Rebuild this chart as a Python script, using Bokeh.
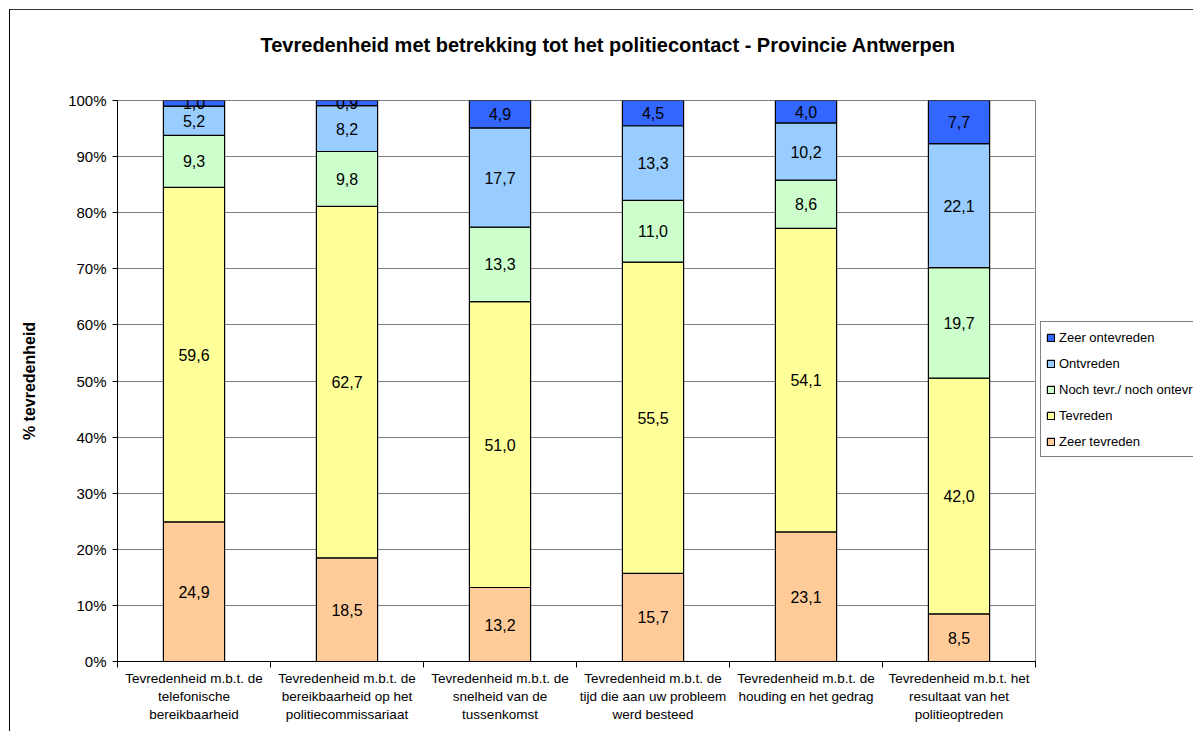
from bokeh.plotting import figure
from bokeh.models import (ColumnDataSource, FixedTicker, Range1d, Legend, LegendItem,
                          LabelSet, PrintfTickFormatter)
from bokeh.embed import file_html
from bokeh.resources import INLINE
from bokeh.core.properties import value

# ---------------- data ----------------
categories = [
    "Tevredenheid m.b.t. de\ntelefonische\nbereikbaarheid",
    "Tevredenheid m.b.t. de\nbereikbaarheid op het\npolitiecommissariaat",
    "Tevredenheid m.b.t. de\nsnelheid van de\ntussenkomst",
    "Tevredenheid m.b.t. de\ntijd die aan uw probleem\nwerd besteed",
    "Tevredenheid m.b.t. de\nhouding en het gedrag",
    "Tevredenheid m.b.t. het\nresultaat van het\npolitieoptreden",
]
zeer_tevreden = [24.9, 18.5, 13.2, 15.7, 23.1, 8.5]
tevreden = [59.6, 62.7, 51.0, 55.5, 54.1, 42.0]
noch = [9.3, 9.8, 13.3, 11.0, 8.6, 19.7]
ontevreden = [5.2, 8.2, 17.7, 13.3, 10.2, 22.1]
zeer_ontevreden = [1.0, 0.9, 4.9, 4.5, 4.0, 7.7]

series_names = ["Zeer tevreden", "Tevreden", "Noch tevr./ noch ontevr",
                "Ontvreden", "Zeer ontevreden"]
series_values = [zeer_tevreden, tevreden, noch, ontevreden, zeer_ontevreden]
colors = ["#FFCC99", "#FFFF99", "#CCFFCC", "#99CCFF", "#3366FF"]
y_ticks = [0, 10, 20, 30, 40, 50, 60, 70, 80, 90, 100]

title_text = "Tevredenheid met betrekking tot het politiecontact - Provincie Antwerpen"
y_label = "% tevredenheid"

FONT = "Liberation Sans"

# ---------------- figure ----------------
n = len(categories)
xs = [i + 0.5 for i in range(n)]
totals = [sum(s[i] for s in series_values) for i in range(n)]

p = figure(width=1183, height=721, frame_width=918, frame_height=561,
           output_backend="svg", toolbar_location=None,
           x_range=Range1d(0, n), y_range=Range1d(0, 100),
           min_border_left=107, min_border_right=158, min_border_top=90,
           min_border_bottom=70, tools="")
p.styles = {"margin-left": "9px", "margin-top": "9px",
            "border-left": "1px solid black", "border-top": "1px solid #333333"}

p.background_fill_color = "white"
p.border_fill_color = "white"
p.outline_line_color = "#808080"
p.outline_line_width = 1

# trailing empty line keeps the title high in the top margin
p.title.text = title_text + "\n"
p.title.text_font = FONT
p.title.text_font_size = "20px"
p.title.text_font_style = "bold"
p.title.text_color = "black"
p.title.align = "left"
p.title.offset = 143
p.title.vertical_align = "top"
p.title.standoff = 42

legend_items = []
bottoms = [0.0] * n
label_x, label_y, label_t = [], [], []
for name, vals, col in zip(series_names, series_values, colors):
    pct = [v / t * 100 for v, t in zip(vals, totals)]
    tops = [b + v for b, v in zip(bottoms, pct)]
    src = ColumnDataSource(dict(x=xs, bottom=bottoms, top=tops))
    r = p.vbar(x="x", bottom="bottom", top="top", width=0.4, source=src,
               fill_color=col, line_color="black", line_width=1.2)
    legend_items.append(LegendItem(label=name, renderers=[r]))
    for i in range(n):
        label_x.append(xs[i])
        label_y.append((bottoms[i] + tops[i]) / 2)
        label_t.append(f"{vals[i]:.1f}".replace(".", ","))
    bottoms = tops

lab_src = ColumnDataSource(dict(x=label_x, y=label_y, t=label_t))
p.add_layout(LabelSet(x="x", y="y", text="t", source=lab_src,
                      text_align="center", text_baseline="middle",
                      text_font=value(FONT), text_font_size="16px",
                      text_color="black"))

# ---------------- axes ----------------
p.yaxis.ticker = FixedTicker(ticks=y_ticks)
p.yaxis.formatter = PrintfTickFormatter(format="%d%%")
p.yaxis.major_label_text_font = FONT
p.yaxis.major_label_text_font_size = "15px"
p.yaxis.major_label_text_color = "black"
p.yaxis.major_tick_in = 0
p.yaxis.major_tick_out = 5
p.yaxis.minor_tick_line_color = None
p.yaxis.axis_line_color = "black"
p.yaxis.major_label_standoff = 6
p.yaxis.axis_label = y_label
p.yaxis.axis_label_text_font = FONT
p.yaxis.axis_label_text_font_size = "16px"
p.yaxis.axis_label_text_font_style = "bold"
p.yaxis.axis_label_text_color = "black"
p.yaxis.axis_label_standoff = 27

p.xaxis.ticker = FixedTicker(ticks=xs, minor_ticks=list(range(n + 1)))
p.xaxis.major_label_overrides = {x: c for x, c in zip(xs, categories)}
p.xaxis.major_label_text_font = FONT
p.xaxis.major_label_text_font_size = "13.5px"
p.xaxis.major_label_text_color = "black"
p.xaxis.major_tick_line_color = None
p.xaxis.major_tick_in = 0
p.xaxis.major_tick_out = 0
p.xaxis.minor_tick_in = 0
p.xaxis.minor_tick_out = 6
p.xaxis.minor_tick_line_color = "black"
p.xaxis.axis_line_color = "black"
p.xaxis.major_label_standoff = 3

p.xgrid.grid_line_color = None
p.ygrid.ticker = FixedTicker(ticks=y_ticks)
p.ygrid.grid_line_color = "#808080"

legend = Legend(items=list(reversed(legend_items)), location=(5, 204),
                label_text_font=FONT, label_text_font_size="13px",
                label_text_color="black",
                glyph_width=9, glyph_height=9, label_standoff=4,
                label_height=20, spacing=6, padding=5, margin=0,
                border_line_color="black", border_line_width=1,
                background_fill_color="white", background_fill_alpha=1)
p.add_layout(legend, "right")

open("out.html", "w").write(file_html(p, INLINE))
